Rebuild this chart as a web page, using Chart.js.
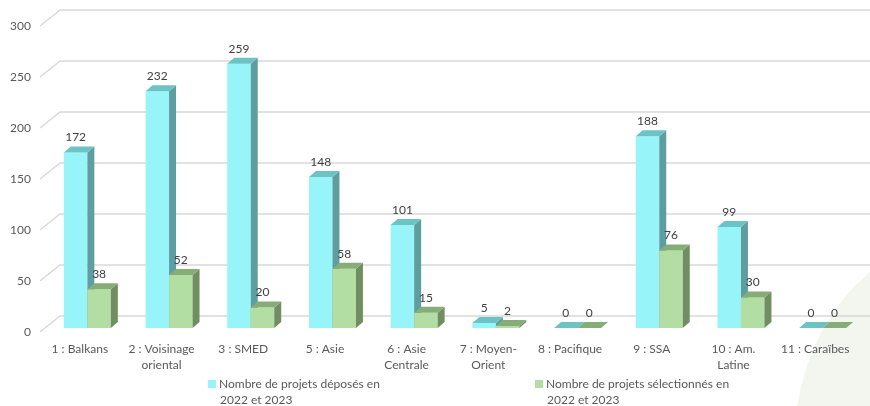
<!DOCTYPE html>
<html>
<head>
<meta charset="utf-8">
<script src="https://cdn.jsdelivr.net/npm/chart.js@4.4.1/dist/chart.umd.min.js"></script>
<style>
  html, body { margin: 0; padding: 0; background: #fff; }
</style>
</head>
<body>
<canvas id="regions" width="870" height="406"></canvas>
<script>
var categories = [['1 : Balkans'], ['2 : Voisinage', 'oriental'], ['3 : SMED'], ['5 : Asie'],
  ['6 : Asie', 'Centrale'], ['7 : Moyen-', 'Orient'], ['8 : Pacifique'], ['9 : SSA'],
  ['10 : Am.', 'Latine'], ['11 : Caraïbes']];
var deposes = [172, 232, 259, 148, 101, 5, 0, 188, 99, 0];
var selectionnes = [38, 52, 20, 58, 15, 2, 0, 76, 30, 0];
var seriesNames = [['Nombre de projets déposés en', '2022 et 2023'],
  ['Nombre de projets sélectionnés en', '2022 et 2023']];
var yTicks = [0, 50, 100, 150, 200, 250, 300];

var FONT = 'Lato, "Noto Sans", sans-serif';
// front / top / side colours for the fake 3d bars
var faces = [
  {front: '#97F5F9', top: '#6CC3C5', side: '#5E9EA1'},
  {front: '#B2DEA3', top: '#86AD78', side: '#718E62'}
];
var SHIFT_X = 7.5, SHIFT_Y = -4;   // bars sit a bit behind the floor front
var DEPTH_X = 7, DEPTH_Y = -6;      // bar depth
var WALL_X = 20, WALL_Y = -16;      // back wall depth

function poly(c, pts, fill) {
  c.beginPath();
  c.moveTo(pts[0][0], pts[0][1]);
  for (var i = 1; i < pts.length; i++) c.lineTo(pts[i][0], pts[i][1]);
  c.closePath();
  c.fillStyle = fill;
  c.fill();
}

var fake3d = {
  id: 'fake3d',
  beforeDraw: function(chart) {
    // pale green slide decoration, bottom right
    var c = chart.ctx, w = chart.width, h = chart.height;
    c.save();
    c.fillStyle = '#F2F6EF';
    c.beginPath();
    c.moveTo(w - 73, h);
    c.quadraticCurveTo(w - 58, h - 86, w, h - 134);
    c.lineTo(w, h);
    c.closePath();
    c.fill();
    c.restore();
  },
  beforeDatasetsDraw: function(chart) {
    var c = chart.ctx, ys = chart.scales.y, area = chart.chartArea;
    c.save();
    // wall gridlines
    c.strokeStyle = '#D9D9D9';
    c.lineWidth = 1.5;
    yTicks.forEach(function(v) {
      var py = ys.getPixelForValue(v);
      c.beginPath();
      c.moveTo(area.left + 1, py);
      c.lineTo(area.left + 1 + WALL_X, py + WALL_Y);
      c.lineTo(chart.width, py + WALL_Y);
      c.stroke();
    });
    // bars, category by category so the green front hides the cyan side
    var metas = [chart.getDatasetMeta(0), chart.getDatasetMeta(1)];
    for (var i = 0; i < categories.length; i++) {
      for (var d = 0; d < 2; d++) {
        var b = metas[d].data[i];
        var l = b.x - b.width / 2 + SHIFT_X, r = b.x + b.width / 2 + SHIFT_X;
        var t = b.y + SHIFT_Y, bot = b.base + SHIFT_Y;
        var f = faces[d];
        if (bot - t > 0) poly(c, [[l, t], [r, t], [r, bot], [l, bot]], f.front);
        poly(c, [[r, t], [r + DEPTH_X, t + DEPTH_Y], [r + DEPTH_X, bot + DEPTH_Y], [r, bot]], f.side);
        poly(c, [[l, t], [l + DEPTH_X, t + DEPTH_Y], [r + DEPTH_X, t + DEPTH_Y], [r, t]], f.top);
      }
    }
    // value labels
    c.fillStyle = '#404040';
    c.font = '12px ' + FONT;
    c.textAlign = 'center';
    c.textBaseline = 'middle';
    var vals = [deposes, selectionnes];
    for (var d2 = 0; d2 < 2; d2++) {
      metas[d2].data.forEach(function(b, k) {
        c.fillText(String(vals[d2][k]), b.x + SHIFT_X, b.y + SHIFT_Y - 15);
      });
    }
    c.restore();
    return false;
  },
  afterDraw: function(chart) {
    // legend, two columns with wrapped text
    var c = chart.ctx;
    var spots = [208, 535];
    c.save();
    c.font = '12px ' + FONT;
    c.textBaseline = 'middle';
    c.textAlign = 'left';
    for (var d = 0; d < 2; d++) {
      c.fillStyle = faces[d].front;
      c.fillRect(spots[d], 380, 8, 8);
      c.fillStyle = '#595959';
      c.fillText(seriesNames[d][0], spots[d] + 11, 384);
      c.fillText(seriesNames[d][1], spots[d] + 12, 400);
    }
    c.restore();
  }
};

var ctx = document.getElementById('regions');
var chart = new Chart(ctx, {
  type: 'bar',
  data: {
    labels: categories,
    datasets: [{
      label: seriesNames[0].join(' '),
      data: deposes,
      backgroundColor: faces[0].front
    }, {
      label: seriesNames[1].join(' '),
      data: selectionnes,
      backgroundColor: faces[1].front
    }]
  },
  options: {
    responsive: false,
    animation: false,
    layout: { padding: { top: 26, right: 14, left: 0, bottom: 0 } },
    categoryPercentage: 0.575,
    barPercentage: 1,
    plugins: {
      legend: { display: false },
      tooltip: { enabled: false }
    },
    scales: {
      x: {
        grid: { display: false, drawTicks: false },
        border: { display: false },
        ticks: { color: '#595959', font: { family: FONT, size: 12, lineHeight: 1.35 }, padding: 9, maxRotation: 0, autoSkip: false },
        afterFit: function(s) { s.height = 74; }
      },
      y: {
        min: 0,
        max: 300,
        grid: { display: false, drawTicks: false },
        border: { display: false },
        ticks: { stepSize: 50, color: '#595959', font: { family: FONT, size: 12 }, padding: 8 },
        afterFit: function(s) { s.width = 39; }
      }
    }
  },
  plugins: [fake3d]
});
</script>
</body>
</html>
